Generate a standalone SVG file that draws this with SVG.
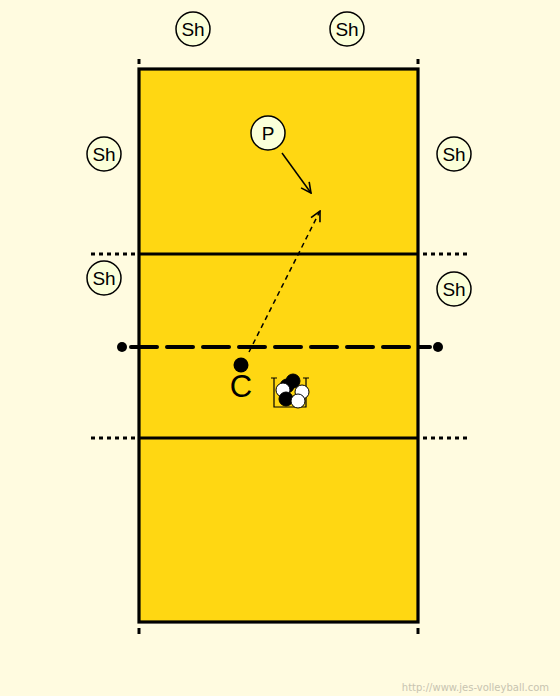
<svg xmlns="http://www.w3.org/2000/svg" width="560" height="696" viewBox="0 0 560 696">
<defs>
<style>
.sh{fill:#fbffd9;stroke:#000;stroke-width:1.5}
.lbl{font-family:"Liberation Sans",Arial,sans-serif;font-size:19px;fill:#000;text-anchor:middle}
.dot{stroke:#000;stroke-width:3;stroke-dasharray:4,4}
.ball-b{fill:#000;stroke:#000;stroke-width:1}
.ball-w{fill:#fff;stroke:#000;stroke-width:1}
</style>
<marker id="ah" viewBox="0 0 12 12" refX="11" refY="6" markerWidth="12" markerHeight="12" markerUnits="userSpaceOnUse" orient="auto">
<path d="M1,1 L11,6 L1,11" fill="none" stroke="#000" stroke-width="1.6"/>
</marker>
</defs>
<rect width="560" height="696" fill="#fffbe0"/>
<g id="court">
<rect x="139" y="69" width="279" height="553" fill="#ffd712" stroke="#000" stroke-width="3.2"/>
<line x1="139" y1="254" x2="418" y2="254" stroke="#000" stroke-width="3"/>
<line x1="139" y1="438" x2="418" y2="438" stroke="#000" stroke-width="3"/>
<line x1="91" y1="254" x2="135" y2="254" class="dot"/>
<line x1="423" y1="254" x2="467" y2="254" class="dot"/>
<line x1="91" y1="438" x2="135" y2="438" class="dot"/>
<line x1="423" y1="438" x2="467" y2="438" class="dot"/>
<line x1="139" y1="59" x2="139" y2="64" stroke="#000" stroke-width="3"/>
<line x1="418" y1="59" x2="418" y2="64" stroke="#000" stroke-width="3"/>
<line x1="139" y1="628" x2="139" y2="634" stroke="#000" stroke-width="3"/>
<line x1="418" y1="628" x2="418" y2="634" stroke="#000" stroke-width="3"/>
</g>
<g id="net">
<line x1="131" y1="347" x2="430" y2="347" stroke="#000" stroke-width="4" stroke-dasharray="26,10" stroke-linecap="round"/>
<circle cx="122" cy="347" r="5" fill="#000"/>
<circle cx="438" cy="347" r="5" fill="#000"/>
</g>
<g id="sh1"><circle class="sh" cx="193" cy="29" r="17"/><text class="lbl" x="193" y="36">Sh</text></g>
<g id="sh2"><circle class="sh" cx="347" cy="29" r="17"/><text class="lbl" x="347" y="36">Sh</text></g>
<g id="sh3"><circle class="sh" cx="104" cy="154" r="17"/><text class="lbl" x="104" y="161">Sh</text></g>
<g id="sh4"><circle class="sh" cx="454" cy="154" r="17"/><text class="lbl" x="454" y="161">Sh</text></g>
<g id="sh5"><circle class="sh" cx="104" cy="278" r="17"/><text class="lbl" x="104" y="285">Sh</text></g>
<g id="sh6"><circle class="sh" cx="454" cy="289" r="17"/><text class="lbl" x="454" y="296">Sh</text></g>
<g id="p"><circle class="sh" cx="268" cy="133" r="17"/><text class="lbl" x="268" y="140">P</text></g>
<g id="coach">
<circle cx="241" cy="365" r="7.5" fill="#000"/>
<text x="241" y="397" font-family="'Liberation Sans',Arial,sans-serif" font-size="31" text-anchor="middle" fill="#000">C</text>
</g>
<g id="cart">
<path d="M271,378 H277 M274,378 V407 H306 V378 M303,378 H309" fill="none" stroke="#000" stroke-width="1.2"/>
<circle class="ball-b" cx="293" cy="381" r="7"/>
<circle class="ball-b" cx="287" cy="386" r="7"/>
<circle class="ball-w" cx="283" cy="390" r="7"/>
<circle class="ball-b" cx="286" cy="399" r="7"/>
<circle class="ball-w" cx="302" cy="392" r="7"/>
<circle class="ball-w" cx="298" cy="401" r="7"/>
</g>
<g id="connectors">
<line x1="249" y1="352" x2="320" y2="211" stroke="#000" stroke-width="1.5" stroke-dasharray="5,4" marker-end="url(#ah)"/>
<line x1="282" y1="153" x2="311" y2="193" stroke="#000" stroke-width="1.5" marker-end="url(#ah)"/>
</g>
<text x="549" y="691" font-family="'DejaVu Sans',Verdana,sans-serif" font-size="10" fill="#c8c4b0" text-anchor="end">http://www.jes-volleyball.com</text>
</svg>
